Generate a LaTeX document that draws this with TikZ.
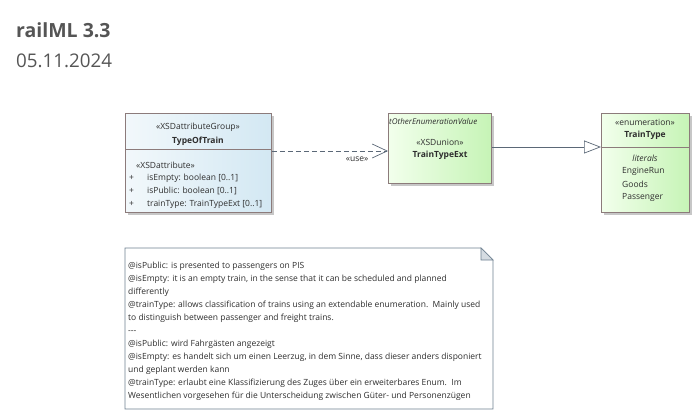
\documentclass[tikz,border=0pt]{standalone}
\usepackage{fontspec}
\setmainfont{Open Sans}
\usetikzlibrary{arrows.meta,shadows}
\definecolor{boxline}{HTML}{8C7B7B}
\definecolor{blueL}{HTML}{F2F8FB}
\definecolor{blueR}{HTML}{D3E8F3}
\definecolor{greenL}{HTML}{F2FFEC}
\definecolor{greenR}{HTML}{C6F4B6}
\definecolor{conn}{HTML}{5B6877}
\definecolor{noteline}{HTML}{6E8090}
\definecolor{notefold}{HTML}{D5DCE2}
\definecolor{txt}{HTML}{2E2E2E}
\definecolor{head}{HTML}{555555}
\tikzset{
  umlbox/.style={draw=boxline,line width=.8pt,anchor=north west,inner sep=0pt,
    drop shadow={shadow xshift=3pt,shadow yshift=-3pt,fill=black!22,opacity=1}},
  bluebox/.style={umlbox,left color=blueL,right color=blueR},
  greenbox/.style={umlbox,left color=greenL,right color=greenR},
  lbl/.style={inner sep=0pt,text=txt,font=\fontsize{8.5}{10}\selectfont},
  lblb/.style={lbl,font=\fontsize{8.5}{10}\selectfont\bfseries},
  lbli/.style={lbl,font=\fontsize{8.5}{10}\selectfont\itshape},
  usedep/.style={conn,dashed,dash pattern=on 5pt off 3pt,line width=.7pt,
    -{Straight Barb[length=15pt,width=14pt,line width=.7pt]}},
  realize/.style={conn,line width=.7pt,
    -{Triangle[open,length=17pt,width=13pt,line width=.7pt,fill=white]}},
}
\begin{document}
\begin{tikzpicture}[x=1pt,y=-1pt]
  \useasboundingbox (0,0) rectangle (700,419);
  % heading
  \node[anchor=base west,inner sep=0pt,text=head,font=\fontsize{19.5}{22}\selectfont\bfseries] (title) at (16,38) {railML 3.3};
  \node[anchor=base west,inner sep=0pt,text=head,font=\fontsize{18.8}{22}\selectfont] (date) at (16,68) {05.11.2024};

  % TypeOfTrain
  \node[bluebox,minimum width=146pt,minimum height=99pt] (tot) at (125,113) {};
  \draw[boxline,line width=.8pt] (tot.west |- 0,149) -- (tot.east |- 0,149);
  \node[lbl] (totst) at (198,127) {«XSDattributeGroup»};
  \node[lblb] (totnm) at (198,141) {TypeOfTrain};
  \node[lbl,anchor=west] (totat) at (136,165) {«XSDattribute»};
  \foreach \y/\t [count=\i] in {178/isEmpty: boolean [0..1],191/isPublic: boolean [0..1],204/trainType: TrainTypeExt [0..1]}{%
    \node[lbl,anchor=west] (totp\i) at (129,\y) {+};
    \node[lbl,anchor=west] (tota\i) at (147,\y) {\t};
  }

  % TrainTypeExt
  \node[greenbox,minimum width=103pt,minimum height=70pt] (tte) at (388,113) {};
  \node[lbli,anchor=west,font=\fontsize{8}{10}\selectfont\itshape] (ttetp) at (389,122) {tOtherEnumerationValue};
  \node[lbl] (ttest) at (440,142) {«XSDunion»};
  \node[lblb] (ttenm) at (440,155) {TrainTypeExt};

  % TrainType
  \node[greenbox,minimum width=88pt,minimum height=99pt] (tt) at (601,113) {};
  \draw[boxline,line width=.8pt] (tt.west |- 0,147) -- (tt.east |- 0,147);
  \node[lbl] (ttst) at (645,122) {«enumeration»};
  \node[lblb] (ttnm) at (645,135) {TrainType};
  \node[lbli] (ttlit) at (645,158) {literals};
  \foreach \y/\t [count=\i] in {171/EngineRun,184/Goods,197/Passenger}{%
    \node[lbl,anchor=west] (ttl\i) at (622,\y) {\t};
  }

  % connectors
  \draw[usedep] (tot.east |- 0,151) -- (tte.west |- 0,151) node[lbl,pos=.735,below=6pt] (use) {«use»};
  \draw[realize] (tte.east |- 0,147) -- (tt.west |- 0,147);

  % note
  \draw[noteline,line width=.8pt,fill=white] (125,248) -- (481,248) -- (493,260) -- (493,409) -- (125,409) -- cycle;
  \draw[noteline,line width=.6pt,fill=notefold] (481,248) -- (481,260) -- (493,260) -- cycle;
  \node[lbl,anchor=north west,align=left,font=\fontsize{8.5}{13}\selectfont] (note) at (128,262) {%
    @isPublic: is presented to passengers on PIS\\
    @isEmpty: it is an empty train, in the sense that it can be scheduled and planned\\
    differently\\
    @trainType: allows classification of trains using an extendable enumeration.\ \ Mainly used\\
    to distinguish between passenger and freight trains.\\
    -{}-{}-\\
    @isPublic: wird Fahrgästen angezeigt\\
    @isEmpty: es handelt sich um einen Leerzug, in dem Sinne, dass dieser anders disponiert\\
    und geplant werden kann\\
    @trainType: erlaubt eine Klassifizierung des Zuges über ein erweiterbares Enum.\ \ Im\\
    Wesentlichen vorgesehen für die Unterscheidung zwischen Güter- und Personenzügen};
\end{tikzpicture}
\end{document}
